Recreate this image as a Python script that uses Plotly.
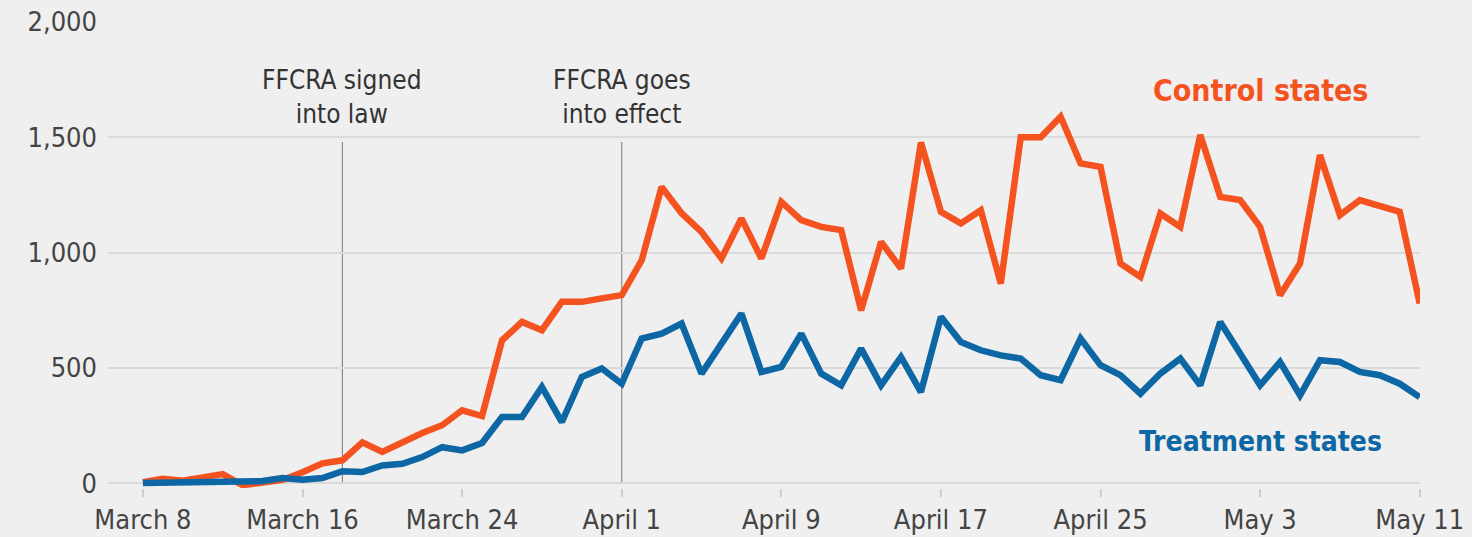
import plotly.graph_objects as go
import pandas as pd

dates = pd.date_range("2020-03-08", "2020-05-11", freq="D")

control_states = [
    5, 20, 12, 25, 40, -8, 5, 15, 48, 87,
    100, 178, 136, 179, 218, 252, 317, 292, 620, 700,
    664, 787, 787, 802, 816, 967, 1285, 1171, 1090, 975,
    1148, 975, 1220, 1141, 1112, 1098, 750, 1047, 931, 1478,
    1177, 1127, 1184, 866, 1500, 1500, 1589, 1387, 1372, 953,
    895, 1170, 1112, 1510, 1242, 1228, 1112, 816, 953, 1423,
    1163, 1228, 1206, 1177, 780,
]
treatment_states = [
    2, 3, 2, 5, 6, 8, 10, 23, 16, 23,
    53, 49, 78, 85, 114, 157, 143, 175, 288, 288,
    418, 266, 461, 498, 432, 628, 649, 693, 476, 606,
    736, 483, 505, 649, 476, 425, 584, 425, 548, 396,
    722, 613, 577, 555, 541, 469, 447, 628, 512, 469,
    389, 476, 541, 425, 700, 563, 425, 526, 382, 534,
    526, 483, 469, 432, 374,
]

tick_dates = ["2020-03-08", "2020-03-16", "2020-03-24", "2020-04-01", "2020-04-09",
              "2020-04-17", "2020-04-25", "2020-05-03", "2020-05-11"]
tick_labels = ["March 8", "March 16", "March 24", "April 1", "April 9",
               "April 17", "April 25", "May 3", "May 11"]
y_ticks = [0, 500, 1000, 1500, 2000]
y_tick_labels = ["0", "500", "1,000", "1,500", "2,000"]

events = ["2020-03-18", "2020-04-01"]
event_labels = ["FFCRA signed<br>into law", "FFCRA goes<br>into effect"]

ORANGE = "#F4531F"
BLUE = "#0C67A4"
BG = "#EFEFEF"
FONT = "DejaVu Sans Condensed, Liberation Sans Narrow, Arial Narrow, sans-serif"

fig = go.Figure()
fig.add_trace(go.Scatter(x=dates, y=control_states, mode="lines", cliponaxis=False,
                         line=dict(color=ORANGE, width=6.5), name="Control states"))
fig.add_trace(go.Scatter(x=dates, y=treatment_states, mode="lines", cliponaxis=False,
                         line=dict(color=BLUE, width=6.5), name="Treatment states"))

for d, lab in zip(events, event_labels):
    fig.add_shape(type="line", x0=d, x1=d, y0=0, y1=1480, xref="x", yref="y",
                  line=dict(color="#8a8a8a", width=1.2), layer="below")
    fig.add_annotation(x=d, y=1675, xref="x", yref="y", text=lab, showarrow=False,
                       font=dict(family=FONT, size=26, color="#333333"),
                       align="center", yanchor="middle")

fig.add_annotation(x="2020-05-03", y=1705, xref="x", yref="y", text="<b>Control states</b>",
                   showarrow=False, font=dict(family=FONT, size=30, color=ORANGE))
fig.add_annotation(x="2020-05-03", y=182, xref="x", yref="y", text="<b>Treatment states</b>",
                   showarrow=False, font=dict(family=FONT, size=28, color=BLUE))

fig.update_layout(
    width=1472, height=537,
    paper_bgcolor=BG, plot_bgcolor=BG,
    margin=dict(l=108, r=52, t=22, b=49),
    showlegend=False,
    font=dict(family=FONT, size=26, color="#444444"),
    xaxis=dict(
        type="date",
        range=["2020-03-06 06:00", "2020-05-11 00:20"],
        tickvals=tick_dates, ticktext=tick_labels,
        showgrid=False, zeroline=False, showline=False,
        ticks="outside", ticklen=8, tickcolor="#cfcfcf", tickwidth=1.5,
        tickfont=dict(family=FONT, size=27, color="#444444"),
        automargin=False, ticklabeloverflow="allow",
    ),
    yaxis=dict(
        range=[-20, 2000],
        tickvals=y_ticks, ticktext=y_tick_labels,
        showgrid=True, gridcolor="#DADADA", gridwidth=1.5,
        zeroline=False, showline=False, ticks="",
        tickfont=dict(family=FONT, size=27, color="#444444"),
        ticklabelstandoff=10,
        automargin=False, ticklabeloverflow="allow",
    ),
)

fig.write_html(
    "out.html",
    config={"displayModeBar": False},
    post_script="document.body.style.margin='0';document.body.style.background='#EFEFEF';",
)
